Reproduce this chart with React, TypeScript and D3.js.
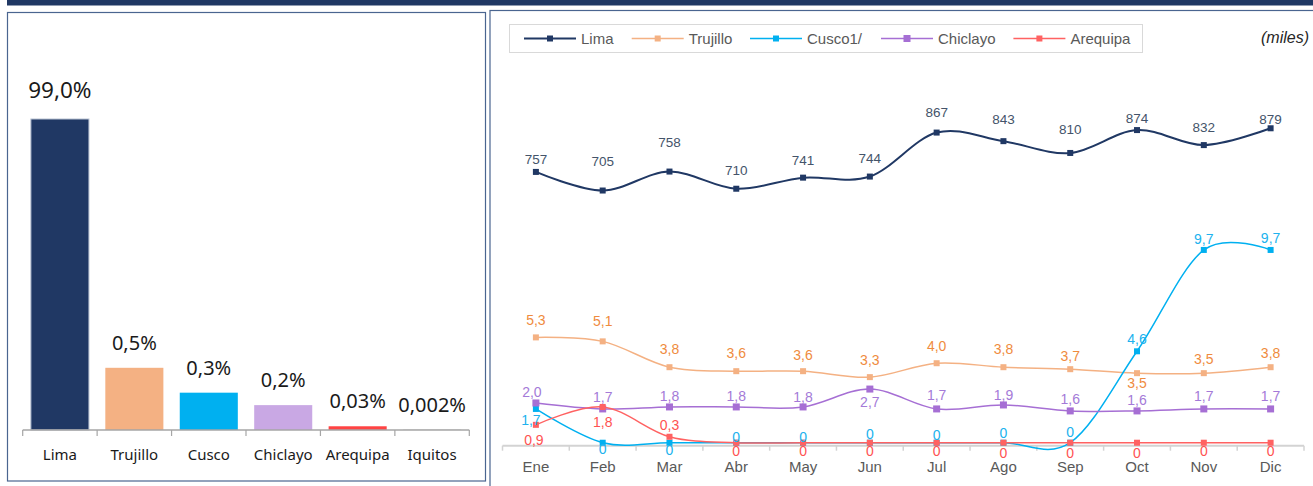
import React from 'react';
import * as d3 from 'd3';

// ---------- data ----------
const cities = ['Lima', 'Trujillo', 'Cusco', 'Chiclayo', 'Arequipa', 'Iquitos'];
const shares = [99.0, 0.5, 0.3, 0.2, 0.03, 0.002];
const shareLabels = ['99,0%', '0,5%', '0,3%', '0,2%', '0,03%', '0,002%'];

const months = ['Ene', 'Feb', 'Mar', 'Abr', 'May', 'Jun', 'Jul', 'Ago', 'Sep', 'Oct', 'Nov', 'Dic'];
const seriesNames = ['Lima', 'Trujillo', 'Cusco1/', 'Chiclayo', 'Arequipa'];
const lima = [757, 705, 758, 710, 741, 744, 867, 843, 810, 874, 832, 879];
const trujillo = [5.3, 5.1, 3.8, 3.6, 3.6, 3.3, 4.0, 3.8, 3.7, 3.5, 3.5, 3.8];
const cusco = [1.7, 0, 0, 0, 0, 0, 0, 0, 0, 4.6, 9.7, 9.7];
const chiclayo = [2.0, 1.7, 1.8, 1.8, 1.8, 2.7, 1.7, 1.9, 1.6, 1.6, 1.7, 1.7];
const arequipa = [0.9, 1.8, 0.3, 0, 0, 0, 0, 0, 0, 0, 0, 0];
const unitLabel = '(miles)';

// ---------- styles / label placement ----------
const NAVY = '#203864';
const barColors = ['#203864', '#f4b183', '#00b0f0', '#c9a8e4', '#ff4343', '#9e9e9e'];
const lineColors = ['#203864', '#f4b183', '#00b0f0', '#a66fd4', '#ff6262'];
const labelColors = ['#44546a', '#ef8b3e', '#20b2ee', '#a47ad8', '#ff5252'];
const markerSizes = [6, 6, 6, 7, 6];
const limaDy = [-12.7, -29.2, -29.3, -18.4, -17, -18.5, -20.5, -22.2, -23.4, -11.5, -17.7, -9.4];
const trujDy = [-17, -20, -18, -17.8, -16.5, -17, -17, -18, -13, 10, -14, -14];
const cuscoDy = [11, 6.5, 7, -5.7, -6, -8.4, -7.7, -9.4, -11, -12, -10.7, -12];
const chicDy = [-10.5, -12, -11, -11, -10, 13, -14, -10, -12, -11, -13, -13];
const areqDy = [15, 15, -12, 8.3, 8, 8, 8.5, 10, 10, 10, 8.5, 8.5];
const ene_dx = [0, 0, -5, -4, -2];
const legendX = [524, 631.7, 750, 881, 1013.4];

const fmtSmall = (v: number) => (v === 0 ? '0' : v.toFixed(1).replace('.', ','));
const fmtLima = (v: number) => String(v);

export default function App() {
  const W = 1313;
  const H = 486;

  // ---- left bar chart ----
  const xBar = d3.scaleBand<string>().domain(cities).range([22.7, 469.3]);
  const yBar = d3.scaleLinear().domain([0, 2.5]).range([430, 119]).clamp(true);
  const barW = xBar.bandwidth() * 0.78;

  // ---- right line chart ----
  const xLine = d3.scaleBand<string>().domain(months).range([502.5, 1304]);
  const cx = (i: number) => (xLine(months[i]) as number) + xLine.bandwidth() / 2;
  const yLima = d3.scaleLinear().domain([-8.4, 1000]).range([445.7, 85]);
  const ySmall = d3.scaleLinear().domain([-0.15, 18]).range([445.7, 85]);

  const series = [
    { name: seriesNames[0], data: lima, y: yLima, dy: limaDy, fmt: fmtLima, fs: 13.5, sw: 2 },
    { name: seriesNames[1], data: trujillo, y: ySmall, dy: trujDy, fmt: fmtSmall, fs: 14, sw: 1.5 },
    { name: seriesNames[2], data: cusco, y: ySmall, dy: cuscoDy, fmt: fmtSmall, fs: 14, sw: 1.5 },
    { name: seriesNames[3], data: chiclayo, y: ySmall, dy: chicDy, fmt: fmtSmall, fs: 14, sw: 1.5 },
    { name: seriesNames[4], data: arequipa, y: ySmall, dy: areqDy, fmt: fmtSmall, fs: 14, sw: 1.5 },
  ];

  const axisY = 445.7;
  const lineFont = '"Liberation Sans", Arial, sans-serif';
  const barFont = '"Noto Sans", "Open Sans", sans-serif';

  return (
    <svg
      width={W}
      height={H}
      style={{ position: 'absolute', left: 0, top: 0, background: '#fff' }}
    >
      {/* top band */}
      <rect x={7} y={0} width={W - 7} height={5.5} fill={NAVY} />
      {/* panels */}
      <rect x={7.5} y={12.5} width={478} height={468.5} fill="none" stroke="#4a6590" strokeWidth={1.2} />
      <rect x={490} y={10.5} width={840} height={490} fill="none" stroke="#4a6590" strokeWidth={1.2} />

      {/* ---------- left bar chart ---------- */}
      <g fontFamily={barFont}>
        {cities.map((c, i) => {
          const bx = (xBar(c) as number) + (xBar.bandwidth() - barW) / 2;
          const top = yBar(shares[i]);
          return (
            <g key={c}>
              <rect
                x={bx}
                y={top}
                width={barW}
                height={yBar(0) - top}
                fill={barColors[i]}
                stroke={i === 0 ? '#b8c2d2' : 'none'}
                strokeWidth={i === 0 ? 1 : 0}
              />
              <text
                x={(xBar(c) as number) + xBar.bandwidth() / 2}
                y={top - (i === 0 ? 21 : 18)}
                fontSize={i === 0 ? 22.5 : 20}
                textAnchor="middle"
                fill="#1a1a1a"
              >
                {shareLabels[i]}
              </text>
              <text
                x={(xBar(c) as number) + xBar.bandwidth() / 2}
                y={460}
                fontSize={15}
                textAnchor="middle"
                fill="#1a1a1a"
              >
                {c}
              </text>
            </g>
          );
        })}
        <line x1={22.7} x2={469.3} y1={yBar(0)} y2={yBar(0)} stroke="#a6a6a6" strokeWidth={1.5} />
        {[...cities.map((c) => xBar(c) as number), 469.3].map((t, i) => (
          <line key={i} x1={t} x2={t} y1={yBar(0)} y2={yBar(0) + 6} stroke="#a6a6a6" strokeWidth={1.2} />
        ))}
      </g>

      {/* ---------- right line chart ---------- */}
      <g fontFamily={lineFont}>
        {/* legend */}
        <rect x={509.5} y={24.5} width={633} height={28} fill="#fff" stroke="#d9d9d9" strokeWidth={1} />
        {series.map((s, k) => (
          <g key={s.name}>
            <line
              x1={legendX[k]}
              x2={legendX[k] + 52}
              y1={38.5}
              y2={38.5}
              stroke={lineColors[k]}
              strokeWidth={s.sw}
            />
            <rect
              x={legendX[k] + 26 - markerSizes[k] / 2}
              y={38.5 - markerSizes[k] / 2}
              width={markerSizes[k]}
              height={markerSizes[k]}
              fill={lineColors[k]}
            />
            <text x={legendX[k] + 57} y={39} dy="0.35em" fontSize={15} fill="#595959">
              {s.name}
            </text>
          </g>
        ))}
        <text x={1309} y={43} fontSize={16} fontStyle="italic" textAnchor="end" fill="#262626">
          {unitLabel}
        </text>

        {/* x axis */}
        <line x1={502.5} x2={1304} y1={axisY} y2={axisY} stroke="#d3d3d3" strokeWidth={2} />
        {[...months.map((m) => xLine(m) as number), 1304].map((t, i) => (
          <line key={i} x1={t} x2={t} y1={axisY} y2={axisY + 5} stroke="#d3d3d3" strokeWidth={1.5} />
        ))}
        {months.map((m, i) => (
          <text key={m} x={cx(i)} y={472} fontSize={15} textAnchor="middle" fill="#595959">
            {m}
          </text>
        ))}

        {/* lines + markers */}
        {series.map((s, k) => {
          const gen = d3
            .line<number>()
            .x((_, i) => cx(i))
            .y((d) => s.y(d))
            .curve(d3.curveCatmullRom.alpha(0));
          const ms = markerSizes[k];
          return (
            <g key={s.name}>
              <path d={gen(s.data) as string} fill="none" stroke={lineColors[k]} strokeWidth={s.sw} />
              {s.data.map((v, i) => (
                <rect
                  key={i}
                  x={cx(i) - ms / 2}
                  y={s.y(v) - ms / 2}
                  width={ms}
                  height={ms}
                  fill={lineColors[k]}
                />
              ))}
            </g>
          );
        })}

        {/* data labels */}
        {series.map((s, k) => (
          <g key={s.name + '-lab'}>
            {s.data.map((v, i) => (
              <text
                key={i}
                x={cx(i) + (i === 0 ? ene_dx[k] : 0)}
                y={s.y(v) + s.dy[i]}
                dy="0.35em"
                fontSize={s.fs}
                textAnchor="middle"
                fill={labelColors[k]}
              >
                {s.fmt(v)}
              </text>
            ))}
          </g>
        ))}
      </g>
    </svg>
  );
}
